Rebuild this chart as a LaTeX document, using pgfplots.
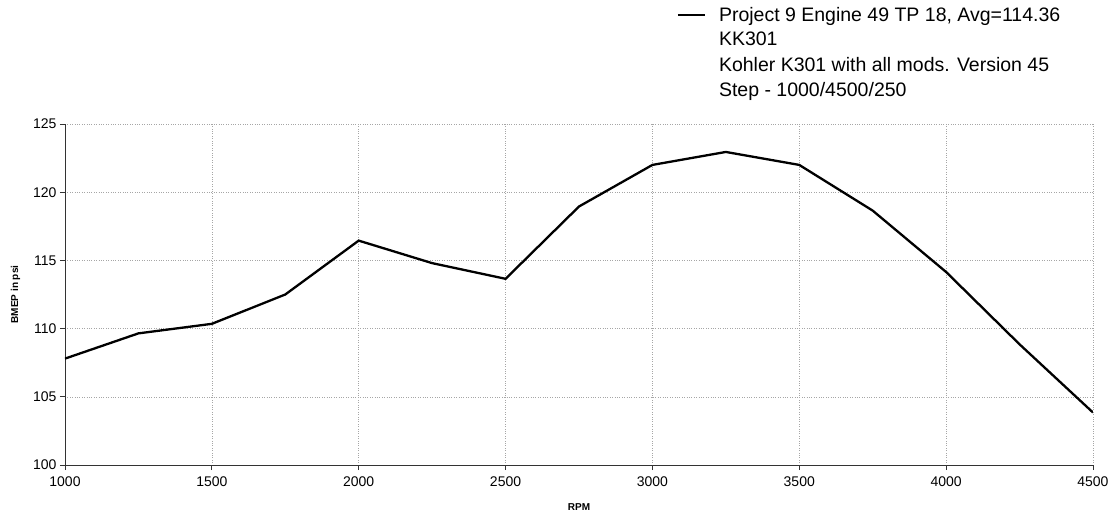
\documentclass[border=0pt]{standalone}
\usepackage{pgfplots}
\pgfplotsset{compat=1.18}
\usepackage{fontspec}
\setmainfont{Liberation Sans}

\begin{document}
\begin{tikzpicture}[x=1pt,y=1pt]
\useasboundingbox (0,0) rectangle (1113,517);
\begin{axis}[
    at={(65pt,52pt)}, anchor=south west,
    scale only axis,
    width=1028pt, height=341pt,
    xmin=1000, xmax=4500,
    ymin=100, ymax=125,
    xtick={1000,1500,...,4500},
    ytick={100,105,...,125},
    axis x line*=bottom,
    axis y line*=left,
    axis line style={black!80, line width=0.8pt, -},
    tick style={black!80, line width=0.8pt},
    tick align=outside,
    major tick length=5pt,
    grid=major,
    major grid style={gray!70, dotted, line width=0.6pt},
    /pgf/number format/assume math mode=true,
    /pgf/number format/1000 sep={},
    ticklabel style={font=\fontsize{14}{16}\selectfont},
    xticklabel style={yshift=-3pt},
    xlabel={\textbf{RPM}},
    ylabel={\textbf{BMEP in psi}},
    label style={font=\fontsize{10}{12}\selectfont},
    xlabel style={yshift=-10pt},
    ylabel style={yshift=6pt},
    legend style={draw=none, fill=none,
        at={(0.592,1.355)}, anchor=north west,
        font=\fontsize{19.5}{23}\selectfont,
        row sep=5.5pt},
    legend cell align=left,
    legend image code/.code={\draw[line width=2.2pt] (0pt,0pt) -- (27pt,0pt);
        \path (38pt,0pt);},
]
\addplot[black, line width=2.3pt] coordinates {
    (1000,107.8) (1250,109.65) (1500,110.35) (1750,112.5)
    (2000,116.45) (2250,114.8) (2500,113.65) (2750,118.95)
    (3000,122.0) (3250,122.95) (3500,122.0) (3750,118.65)
    (4000,114.15) (4250,108.85) (4500,103.85)
};
\addlegendentry{Project 9 Engine 49 TP 18, Avg=114.36}
\addlegendimage{empty legend}
\addlegendentry{KK301}
\addlegendimage{empty legend}
\addlegendentry{Kohler K301 with all mods. Version 45}
\addlegendimage{empty legend}
\addlegendentry{Step - 1000/4500/250}
\end{axis}
\end{tikzpicture}
\end{document}
